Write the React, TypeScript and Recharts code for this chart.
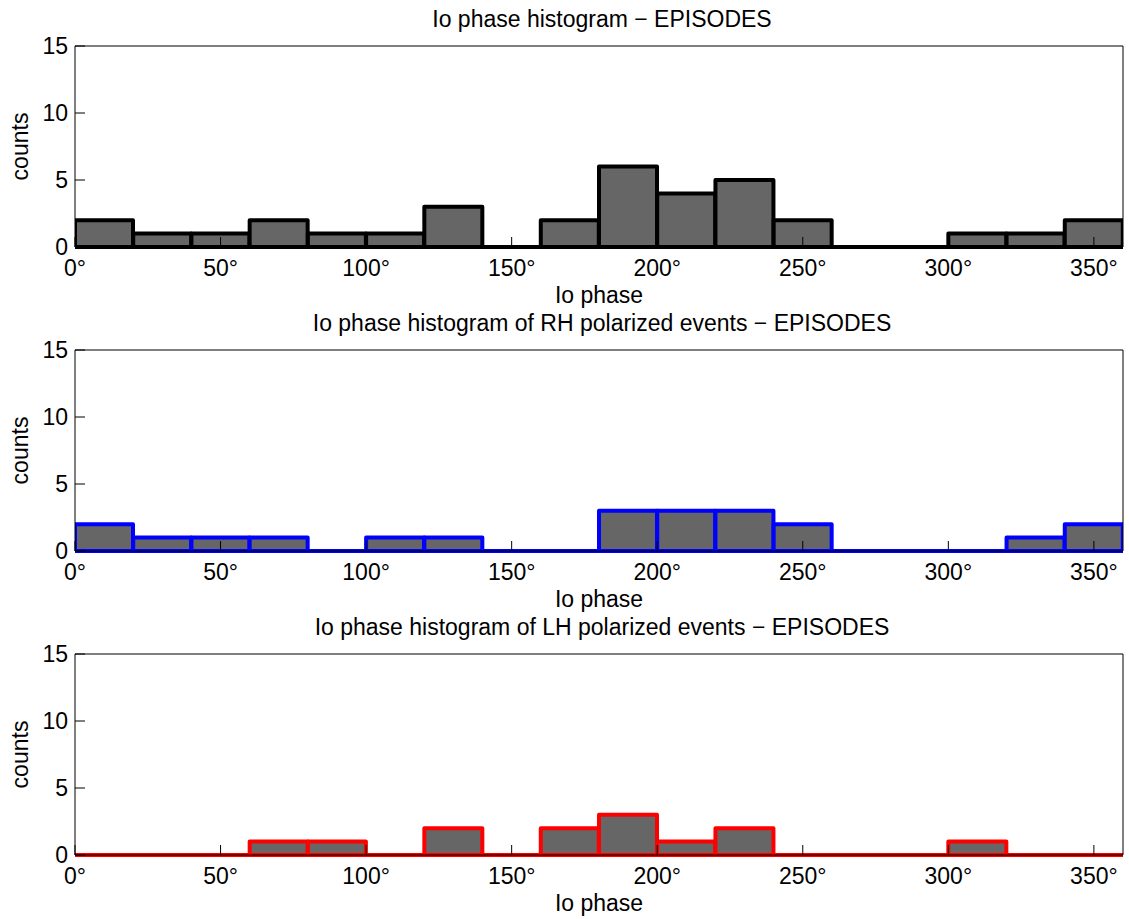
import React from "react";
import { ComposedChart, Bar, Line, XAxis, YAxis, ReferenceLine } from "recharts";

// 20 degree bins over 0-360, values are bin centres
const binCentres = [10, 30, 50, 70, 90, 110, 130, 150, 170, 190, 210, 230, 250, 270, 290, 310, 330, 350];
const allCounts = [2, 1, 1, 2, 1, 1, 3, 0, 2, 6, 4, 5, 2, 0, 0, 1, 1, 2];
const rhCounts = [2, 1, 1, 1, 0, 1, 1, 0, 0, 3, 3, 3, 2, 0, 0, 0, 1, 2];
const lhCounts = [0, 0, 0, 1, 1, 0, 2, 0, 2, 3, 1, 2, 0, 0, 0, 1, 0, 0];
const phaseTicks = [0, 50, 100, 150, 200, 250, 300, 350];
const countTicks = [0, 5, 10, 15];

const FONT = "'Liberation Sans', Arial, Helvetica, sans-serif";
const FS = 23;
const BAR_FILL = "#666666";

interface PanelProps {
  title: string;
  counts: number[];
  color: string;
  height: number;
}

function Panel({ title, counts, color, height }: PanelProps) {
  const data = binCentres.map((c, i) => ({ mid: c, count: counts[i] }));
  return (
    <ComposedChart
      width={1129}
      height={height}
      data={data}
      margin={{ top: 45, right: 5, bottom: 0, left: 0 }}
      barCategoryGap={0}
      barGap={0}
    >
      <XAxis
        xAxisId="bottom"
        dataKey="mid"
        type="number"
        domain={[0, 360]}
        allowDataOverflow
        ticks={phaseTicks}
        interval={0}
        tickFormatter={(v) => `${v}°`}
        height={height - 45 - 1 - 201}
        stroke="#000"
        tickSize={-10}
        tickMargin={23}
        tick={{ fill: "#000", fontSize: FS, fontFamily: FONT }}
        label={{
          content: ({ viewBox }: any) => (
            <text
              x={viewBox.x + viewBox.width / 2}
              y={viewBox.y + 56}
              textAnchor="middle"
              fontSize={FS}
              fontFamily={FONT}
              fill="#000"
            >
              Io phase
            </text>
          ),
        }}
      />
      <XAxis
        xAxisId="top"
        orientation="top"
        dataKey="mid"
        type="number"
        domain={[0, 360]}
        allowDataOverflow
        ticks={phaseTicks}
        interval={0}
        height={1}
        stroke="#000"
        tickSize={-10}
        tick={false}
        label={{
          content: ({ viewBox }: any) => (
            <text
              x={viewBox.x + viewBox.width / 2 + 3}
              y={viewBox.y + viewBox.height - 19}
              textAnchor="middle"
              fontSize={FS}
              fontFamily={FONT}
              fill="#000"
            >
              {title}
            </text>
          ),
        }}
      />
      <YAxis
        yAxisId="left"
        domain={[0, 15]}
        allowDataOverflow
        ticks={countTicks}
        interval={0}
        width={75}
        stroke="#000"
        tickSize={-10}
        tickMargin={17}
        tick={{ fill: "#000", fontSize: FS, fontFamily: FONT }}
        label={{
          content: ({ viewBox }: any) => {
            const cx = viewBox.x + 20;
            const cy = viewBox.y + viewBox.height / 2;
            return (
              <text
                x={cx}
                y={cy}
                transform={`rotate(-90 ${cx} ${cy})`}
                textAnchor="middle"
                dominantBaseline="central"
                fontSize={FS}
                fontFamily={FONT}
                fill="#000"
              >
                counts
              </text>
            );
          },
        }}
      />
      <YAxis
        yAxisId="right"
        orientation="right"
        domain={[0, 15]}
        allowDataOverflow
        ticks={countTicks}
        interval={0}
        width={1}
        stroke="#000"
        tickSize={-10}
        tick={false}
      />
      <ReferenceLine
        xAxisId="bottom"
        yAxisId="left"
        y={0}
        stroke={color}
        strokeWidth={4}
      />
      <Bar
        xAxisId="bottom"
        yAxisId="left"
        dataKey="count"
        fill={BAR_FILL}
        stroke={color}
        strokeWidth={4}
        strokeLinejoin="round"
        isAnimationActive={false}
      />
      {/* invisible series so the top/right box axes get a domain */}
      <Line
        xAxisId="top"
        yAxisId="right"
        dataKey="count"
        stroke="none"
        dot={false}
        activeDot={false}
        isAnimationActive={false}
      />
    </ComposedChart>
  );
}

export default function App() {
  return (
    <div style={{ position: "absolute", left: 0, top: 0, width: 1129, height: 919, background: "#fff" }}>
      <style>{`.recharts-surface { overflow: visible; }`}</style>
      <Panel title="Io phase histogram − EPISODES" counts={allCounts} color="#000000" height={304} />
      <Panel title="Io phase histogram of RH polarized events − EPISODES" counts={rhCounts} color="#0000ff" height={304} />
      <Panel title="Io phase histogram of LH polarized events − EPISODES" counts={lhCounts} color="#ff0000" height={311} />
    </div>
  );
}
